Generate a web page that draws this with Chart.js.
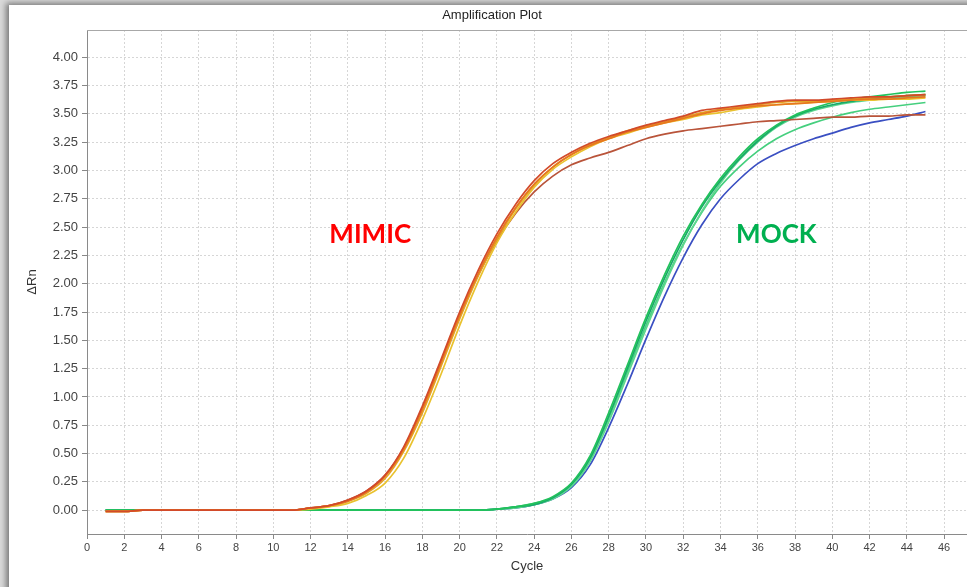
<!DOCTYPE html>
<html>
<head>
<meta charset="utf-8">
<title>Amplification Plot</title>
<script src="https://cdn.jsdelivr.net/npm/chart.js@4.4.1/dist/chart.umd.min.js"></script>
<style>
  html, body { margin: 0; padding: 0; width: 967px; height: 587px; overflow: hidden; background: #dadada; }
  #panel { position: absolute; left: 9px; top: 5px; width: 990px; height: 610px; background: #fff;
           box-shadow: -3px -2px 6px rgba(0,0,0,0.45); }
  #wrap { position: absolute; left: 0; top: 0; width: 967px; height: 587px; }
</style>
</head>
<body>
<div id="panel"></div>
<div id="wrap"><canvas id="c" width="967" height="587"></canvas></div>
<script>
// Cycle numbers (x values)
const cycles = [1,2,3,4,5,6,7,8,9,10,11,12,13,14,15,16,17,18,19,20,21,22,23,24,25,26,27,28,29,30,31,32,33,34,35,36,37,38,39,40,41,42,43,44,45];

// ΔRn per cycle — MIMIC wells
const mimicA = [-0.01,-0.01,0,0,0,0,0,0,0,0,0,0.02,0.04,0.09,0.17,0.31,0.56,0.92,1.33,1.75,2.12,2.44,2.70,2.91,3.06,3.16,3.24,3.30,3.35,3.40,3.44,3.48,3.53,3.55,3.57,3.59,3.61,3.62,3.62,3.63,3.64,3.65,3.65,3.66,3.67];
const mimicB = [-0.01,-0.01,0,0,0,0,0,0,0,0,0,0.02,0.04,0.08,0.16,0.30,0.54,0.89,1.30,1.72,2.09,2.41,2.67,2.88,3.03,3.14,3.22,3.28,3.34,3.38,3.42,3.46,3.50,3.53,3.55,3.57,3.58,3.59,3.60,3.61,3.62,3.63,3.63,3.64,3.65];
const mimicC = [-0.01,-0.01,0,0,0,0,0,0,0,0,0,0.01,0.03,0.06,0.13,0.24,0.46,0.80,1.20,1.63,2.02,2.36,2.63,2.85,3.01,3.12,3.21,3.28,3.33,3.38,3.42,3.45,3.49,3.51,3.54,3.56,3.58,3.59,3.60,3.61,3.62,3.62,3.63,3.63,3.64];
const mimicD = [-0.01,-0.01,0,0,0,0,0,0,0,0,0,0.02,0.04,0.08,0.15,0.28,0.52,0.86,1.27,1.69,2.07,2.39,2.66,2.87,3.03,3.14,3.23,3.29,3.35,3.39,3.43,3.47,3.51,3.54,3.56,3.58,3.60,3.61,3.61,3.62,3.63,3.64,3.65,3.66,3.67];
const mimicE = [-0.01,-0.01,0,0,0,0,0,0,0,0,0,0.02,0.04,0.09,0.17,0.31,0.55,0.90,1.31,1.72,2.08,2.38,2.62,2.81,2.95,3.05,3.11,3.16,3.22,3.28,3.32,3.35,3.37,3.39,3.41,3.43,3.44,3.45,3.46,3.47,3.47,3.48,3.48,3.49,3.49];

// ΔRn per cycle — MOCK wells
const mockG1 = [0,0,0,0,0,0,0,0,0,0,0,0,0,0,0,0,0,0,0,0,0,0.01,0.03,0.06,0.12,0.24,0.48,0.86,1.28,1.70,2.08,2.42,2.70,2.93,3.12,3.28,3.40,3.49,3.55,3.60,3.63,3.65,3.67,3.69,3.70];
const mockG2 = [0,0,0,0,0,0,0,0,0,0,0,0,0,0,0,0,0,0,0,0,0,0.01,0.03,0.06,0.11,0.22,0.45,0.81,1.22,1.63,2.01,2.35,2.63,2.86,3.03,3.17,3.28,3.36,3.42,3.47,3.51,3.54,3.56,3.58,3.60];
const mockG3 = [0,0,0,0,0,0,0,0,0,0,0,0,0,0,0,0,0,0,0,0,0,0.01,0.03,0.05,0.11,0.23,0.46,0.83,1.25,1.67,2.05,2.39,2.68,2.91,3.10,3.26,3.39,3.48,3.54,3.58,3.61,3.63,3.65,3.66,3.67];
const mockG4 = [0,0,0,0,0,0,0,0,0,0,0,0,0,0,0,0,0,0,0,0,0,0.01,0.02,0.05,0.10,0.21,0.43,0.78,1.19,1.60,1.99,2.34,2.64,2.89,3.09,3.25,3.38,3.47,3.53,3.57,3.60,3.62,3.64,3.65,3.66];
const mockB  = [0,0,0,0,0,0,0,0,0,0,0,0,0,0,0,0,0,0,0,0,0,0.01,0.02,0.05,0.10,0.20,0.40,0.73,1.11,1.51,1.89,2.23,2.52,2.75,2.92,3.06,3.15,3.22,3.28,3.33,3.38,3.42,3.45,3.48,3.52];

// Axis tick settings
const xTickStep = 2;
const yTickStep = 0.25;

// Chart.js paints the first dataset on top, so MIMIC wells come first
const series = [
  { values: mimicA, color: '#d24a2a' },
  { values: mimicB, color: '#e8761e' },
  { values: mimicD, color: '#e3a226' },
  { values: mimicC, color: '#e9c22e' },
  { values: mimicE, color: '#b9543a' },
  { values: mockG1, color: '#22c25c' },
  { values: mockG3, color: '#19a96a' },
  { values: mockG4, color: '#5dd78e' },
  { values: mockG2, color: '#45cf7e' },
  { values: mockB,  color: '#3a4fc2' }
];

const datasets = series.map(s => ({
  data: cycles.map((c, i) => ({ x: c, y: s.values[i] })),
  borderColor: s.color,
  borderWidth: 1.7,
  pointRadius: 0,
  fill: false,
  cubicInterpolationMode: 'monotone'
}));

// Plot title and the frame line along the top of the plot area
const framePlugin = {
  id: 'frame',
  afterDraw(chart) {
    const { ctx, chartArea } = chart;
    ctx.save();
    ctx.strokeStyle = '#a8a8a8';
    ctx.lineWidth = 1;
    ctx.beginPath();
    ctx.moveTo(chartArea.left, chartArea.top + 0.5);
    ctx.lineTo(chartArea.right, chartArea.top + 0.5);
    ctx.stroke();
    ctx.fillStyle = '#222';
    ctx.font = '13px "Liberation Sans", Arial, sans-serif';
    ctx.textAlign = 'center';
    ctx.textBaseline = 'middle';
    ctx.fillText('Amplification Plot', 492, 15);
    ctx.restore();
  }
};

// Group labels placed in data coordinates
const groupLabels = [
  { text: 'MIMIC', x: 15.2, y: 2.43, color: '#ff0000' },
  { text: 'MOCK',  x: 37.0, y: 2.43, color: '#00b050' }
];
const labelPlugin = {
  id: 'groupLabels',
  afterDatasetsDraw(chart) {
    const { ctx, scales } = chart;
    ctx.save();
    ctx.font = 'bold 26px Lato, "Open Sans", sans-serif';
    ctx.textAlign = 'center';
    ctx.textBaseline = 'middle';
    groupLabels.forEach(l => {
      ctx.fillStyle = l.color;
      ctx.fillText(l.text, scales.x.getPixelForValue(l.x), scales.y.getPixelForValue(l.y));
    });
    ctx.restore();
  }
};

const tickFont = { family: '"Liberation Sans", Arial, sans-serif' };

new Chart(document.getElementById('c'), {
  type: 'line',
  data: { datasets },
  plugins: [framePlugin, labelPlugin],
  options: {
    responsive: false,
    animation: false,
    layout: { padding: { top: 30, left: 0, right: 0, bottom: 0 } },
    plugins: { legend: { display: false }, tooltip: { enabled: false }, title: { display: false } },
    scales: {
      x: {
        type: 'linear',
        min: 0,
        max: 47.23,
        afterFit(scale) { scale.height = 53; },
        ticks: { stepSize: xTickStep, includeBounds: false, autoSkip: false, maxRotation: 0,
                 padding: 2, color: '#444', font: { ...tickFont, size: 11 } },
        grid: { color: '#d6d6d6', tickColor: '#888', tickLength: 5, lineWidth: 1 },
        border: { color: '#8a8a8a', width: 1, dash: [2, 2] },
        title: { display: true, text: 'Cycle', color: '#333',
                 font: { ...tickFont, size: 13 }, padding: { top: 0, bottom: 13 } }
      },
      y: {
        min: -0.21,
        max: 4.24,
        afterFit(scale) { scale.width = 87; },
        ticks: { stepSize: yTickStep, includeBounds: false, padding: 4, color: '#444',
                 font: { ...tickFont, size: 13 }, callback: v => v.toFixed(2) },
        grid: { color: '#d6d6d6', tickColor: '#888', tickLength: 5, lineWidth: 1 },
        border: { color: '#8a8a8a', width: 1, dash: [2, 2] },
        title: { display: true, text: 'ΔRn', color: '#333',
                 font: { ...tickFont, size: 13 }, padding: { top: 25, bottom: 0 } }
      }
    }
  }
});
</script>
</body>
</html>
